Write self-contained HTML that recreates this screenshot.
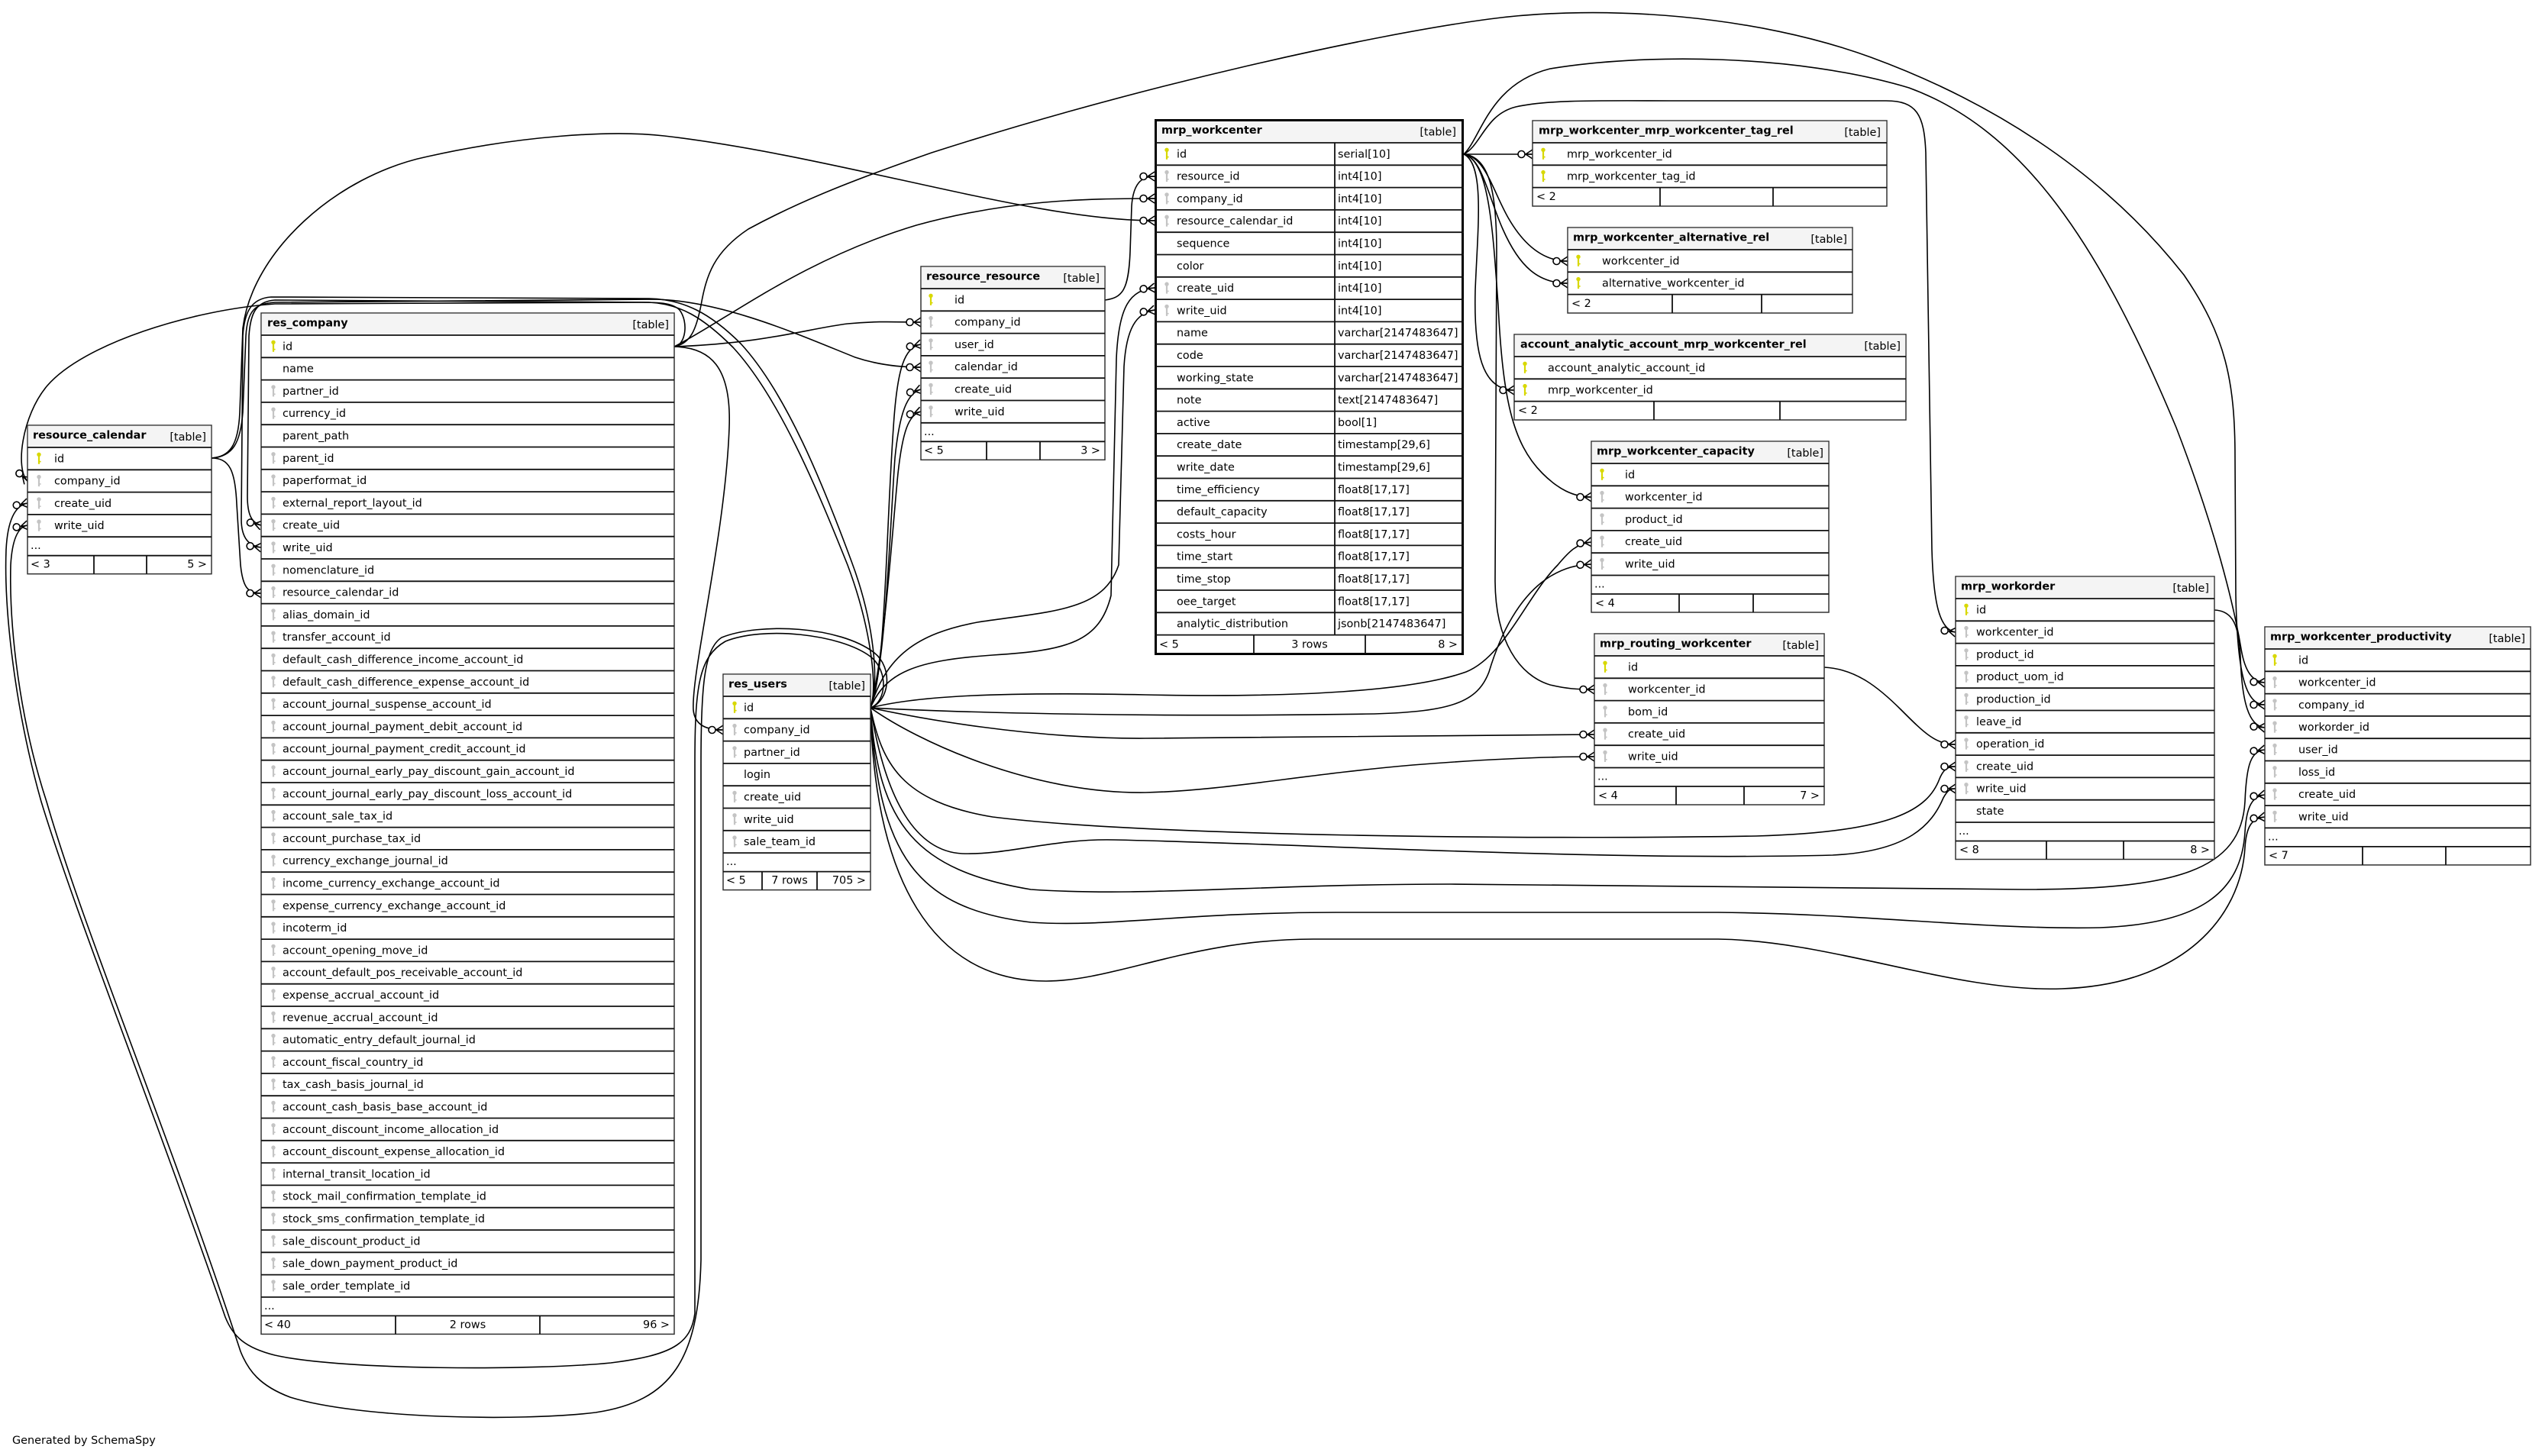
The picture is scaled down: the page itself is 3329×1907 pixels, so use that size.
<!DOCTYPE html>
<html><head><meta charset="utf-8"><style>
html,body{margin:0;padding:0;background:#fff;}
svg{display:block;}
text{font-family:"DejaVu Sans","Liberation Sans",sans-serif;font-size:14.4px;fill:#000;}
.b{font-weight:bold;}
.e{text-anchor:end;}
.m{text-anchor:middle;}
.tb{fill:#fff;stroke:#333;stroke-width:1.5;}
.hd{fill:#f4f4f4;}
.ln{stroke:#111;stroke-width:1.8;fill:none;}
.ed path{fill:none;stroke:#000;stroke-width:1.6;marker-end:url(#cr);}
</style></head><body>
<svg width="3329" height="1907" viewBox="0 0 3329 1907" xmlns="http://www.w3.org/2000/svg">
<defs>
<g id="kp"><circle cx="0" cy="-10" r="2.7" fill="#d8d800"/><rect x="-1.1" y="-9" width="2.2" height="11.5" fill="#d8d800"/><rect x="1" y="-1.5" width="1.6" height="1.6" fill="#d8d800"/></g>
<g id="kf"><circle cx="0" cy="-10" r="2.7" fill="#c4c4c4"/><rect x="-1.1" y="-9" width="2.2" height="11.5" fill="#c4c4c4"/><rect x="1" y="-1.5" width="1.6" height="1.6" fill="#c4c4c4"/></g>
<marker id="cr" viewBox="-24 -10 26 20" refX="0" refY="0" markerWidth="26" markerHeight="20" markerUnits="userSpaceOnUse" orient="auto">
<path d="M-9,0 L0,-6 M-9,0 L0,0 M-9,0 L0,6" stroke="#000" stroke-width="1.6" fill="none"/>
<circle cx="-14.5" cy="0" r="4.5" fill="#fff" stroke="#000" stroke-width="1.6"/>
</marker>
</defs>

<!-- EDGES -->
<g class="ed">
<path d="M883,454 C898,452 902,422 890,406 C880,396 860,396 840,396 L360,398 C250,406 110,450 62,505 C28,545 20,615 36,630"/>
<path d="M883,454 C930,455 958,480 955,560 C950,700 905,880 908,930 C910,950 925,956 947,956"/>
<path d="M883,454 C1000,450 1060,430 1110,424 C1150,420 1180,422 1206,422"/>
<path d="M883,454 C950,420 1050,340 1200,295 C1320,262 1420,260 1512,260"/>
<path d="M883,454 C905,450 912,430 918,400 C925,360 935,330 980,300 C1050,262 1120,235 1220,200 C1500,110 1800,45 1950,25 C2100,5 2300,20 2450,75 C2600,130 2750,220 2860,360 C2915,440 2927,500 2927,600 L2928,780 C2930,880 2940,923 2966,923"/>
<path d="M277,600 C300,600 308,615 310,660 L315,740 C318,770 325,777 342,777"/>
<path d="M277,600 C305,598 315,580 318,540 L322,440 C324,405 335,398 360,396 L860,392 C950,395 1050,440 1120,468 C1150,478 1180,481 1206,481"/>
<path d="M277,600 C300,598 312,585 314,540 L318,430 C330,330 440,230 560,205 C680,178 800,170 870,178 C1100,205 1350,289 1512,289"/>
<path d="M1140,927 C1160,920 1165,880 1140,860 C1100,830 1000,820 950,840 C915,860 910,900 910,1000 L910,1720 C905,1760 880,1775 800,1785 C700,1795 450,1795 360,1775 C320,1765 305,1750 295,1725 C200,1450 100,1200 54,1050 C20,930 5,800 8,720 C10,680 20,662 36,659"/>
<path d="M1140,927 C1165,918 1170,875 1145,855 C1100,820 995,815 945,835 C922,850 918,900 918,1000 L918,1650 C915,1780 880,1835 780,1850 C680,1862 470,1858 380,1830 C340,1815 325,1795 315,1770 C220,1480 110,1220 61,1050 C25,940 12,820 14,740 C16,705 24,690 36,688"/>
<path d="M1140,927 C1150,900 1140,820 1110,740 C1070,640 1020,520 960,455 C920,415 890,398 850,396 L360,393 C335,395 328,410 326,440 L324,650 C324,675 330,685 342,688"/>
<path d="M1140,927 C1152,895 1145,815 1115,735 C1078,635 1030,515 970,450 C930,410 895,392 850,391 L355,389 C328,391 320,410 318,440 L316,680 C316,705 326,715 342,717"/>
<path d="M1140,927 C1160,880 1160,700 1170,560 C1175,480 1185,455 1206,451"/>
<path d="M1140,927 C1160,870 1165,700 1172,600 C1178,540 1188,515 1206,510"/>
<path d="M1140,927 C1158,860 1168,700 1176,620 C1182,565 1190,543 1206,539"/>
<path d="M1140,927 C1160,880 1200,865 1300,858 C1400,852 1440,840 1455,780 L1462,470 C1465,400 1480,380 1512,377"/>
<path d="M1140,927 C1160,860 1200,830 1280,815 C1380,800 1445,800 1465,740 L1472,480 C1475,430 1488,410 1512,406"/>
<path d="M1140,927 C1200,912 1300,906 1500,910 C1700,914 1850,905 1920,880 C1970,860 2000,780 2040,740 C2055,722 2065,712 2084,710"/>
<path d="M1140,927 C1250,933 1500,940 1800,935 C1900,932 1935,920 1950,880 C1965,830 1990,780 2030,755 C2050,743 2065,740 2084,739"/>
<path d="M1140,927 C1200,940 1350,968 1500,967 C1700,965 1900,962 2088,962"/>
<path d="M1140,927 C1200,970 1350,1040 1500,1038 C1600,1036 1700,1015 1850,1002 C1950,994 2030,991 2088,991"/>
<path d="M1140,927 C1155,1000 1180,1050 1300,1070 C1500,1095 2000,1100 2300,1095 C2480,1090 2525,1060 2540,1020 C2545,1008 2550,1004 2561,1004"/>
<path d="M1140,927 C1160,1050 1200,1115 1260,1118 C1320,1120 1380,1098 1460,1100 C1700,1105 2100,1128 2400,1120 C2500,1115 2530,1080 2545,1045 C2550,1036 2553,1033 2561,1033"/>
<path d="M1140,927 C1150,1080 1200,1140 1350,1165 C1500,1175 1650,1158 1900,1158 L2650,1165 C2850,1165 2935,1140 2940,1050 C2942,1000 2948,984 2966,982"/>
<path d="M1140,927 C1150,1120 1200,1190 1350,1208 C1450,1215 1550,1195 1750,1195 L2250,1195 C2450,1197 2600,1218 2750,1215 C2880,1210 2935,1170 2940,1090 C2942,1055 2950,1043 2966,1041"/>
<path d="M1140,927 C1145,1150 1220,1285 1370,1285 C1460,1285 1560,1230 1720,1230 L2250,1230 C2400,1232 2560,1300 2700,1295 C2860,1290 2935,1200 2940,1110 C2942,1080 2950,1072 2966,1070"/>
<path d="M1447,393 C1470,390 1478,380 1480,330 L1482,270 C1484,240 1495,231 1512,231"/>
<path d="M1917,202 L2007,202"/>
<path d="M1917,202 C1945,205 1955,250 1975,285 C1995,320 2020,342 2053,342"/>
<path d="M1917,202 C1940,205 1950,260 1968,300 C1990,350 2015,371 2053,371"/>
<path d="M1917,202 C1945,215 1935,300 1932,380 C1930,460 1940,511 1983,511"/>
<path d="M1917,202 C1950,210 1955,300 1962,400 C1968,520 1980,580 2020,620 C2040,640 2060,651 2084,651"/>
<path d="M1917,202 C1950,205 1960,250 1960,330 L1958,760 C1958,840 1990,885 2030,897 C2050,902 2065,903 2088,903"/>
<path d="M1917,202 C1940,190 1945,150 1985,140 C2030,130 2100,132 2200,132 L2470,132 C2510,132 2520,150 2522,200 L2530,720 C2532,790 2540,825 2561,828"/>
<path d="M1917,202 C1940,180 1950,110 2030,90 C2150,70 2350,70 2500,115 C2650,170 2750,320 2850,560 C2900,690 2925,790 2935,850 C2940,880 2950,893 2966,894"/>
<path d="M2389,874 C2430,876 2460,900 2490,930 C2520,960 2535,975 2561,975"/>
<path d="M2900,799 C2925,800 2932,820 2934,860 C2936,920 2945,951 2966,953"/>
</g>

<!-- resource_calendar -->
<g transform="translate(36,557)">
<rect class="tb" x="0" y="0" width="241" height="194.7"/>
<rect class="hd" x="0.75" y="0.75" width="239.5" height="28"/>
<path class="ln" d="M0,29H241M0,58.3H241M0,87.6H241M0,116.9H241M0,146.2H241M0,170.7H241M87,170.7V194.7M156,170.7V194.7"/>
<text class="b" x="7" y="17.5">resource_calendar</text><text class="e" x="234" y="20">[table]</text>
<use href="#kp" x="15" y="48.3"/><text x="35" y="48.3">id</text>
<use href="#kf" x="15" y="77.6"/><text x="35" y="77.6">company_id</text>
<use href="#kf" x="15" y="106.9"/><text x="35" y="106.9">create_uid</text>
<use href="#kf" x="15" y="136.2"/><text x="35" y="136.2">write_uid</text>
<text x="4" y="162">...</text>
<text x="4" y="186.7">&lt; 3</text><text class="e" x="235" y="186.7">5 &gt;</text>
</g>

<!-- res_company -->
<g transform="translate(342,410)">
<rect class="tb" x="0" y="0" width="541" height="1337.4"/>
<rect class="hd" x="0.75" y="0.75" width="539.5" height="28"/>
<path class="ln" d="M0,29H541M0,58.3H541M0,87.6H541M0,116.9H541M0,146.2H541M0,175.5H541M0,204.8H541M0,234.1H541M0,263.4H541M0,292.7H541M0,322H541M0,351.3H541M0,380.6H541M0,409.9H541M0,439.2H541M0,468.5H541M0,497.8H541M0,527.1H541M0,556.4H541M0,585.7H541M0,615H541M0,644.3H541M0,673.6H541M0,702.9H541M0,732.2H541M0,761.5H541M0,790.8H541M0,820.1H541M0,849.4H541M0,878.7H541M0,908H541M0,937.3H541M0,966.6H541M0,995.9H541M0,1025.2H541M0,1054.5H541M0,1083.8H541M0,1113.1H541M0,1142.4H541M0,1171.7H541M0,1201H541M0,1230.3H541M0,1259.6H541M0,1288.9H541M0,1313.4H541M176,1313.4V1337.4M365,1313.4V1337.4"/>
<text class="b" x="8" y="17.5">res_company</text><text class="e" x="534" y="20">[table]</text>
<use href="#kp" x="16" y="48.3"/><text x="28" y="48.3">id</text>
<text x="28" y="77.6">name</text>
<use href="#kf" x="16" y="106.9"/><text x="28" y="106.9">partner_id</text>
<use href="#kf" x="16" y="136.2"/><text x="28" y="136.2">currency_id</text>
<text x="28" y="165.5">parent_path</text>
<use href="#kf" x="16" y="194.8"/><text x="28" y="194.8">parent_id</text>
<use href="#kf" x="16" y="224.1"/><text x="28" y="224.1">paperformat_id</text>
<use href="#kf" x="16" y="253.4"/><text x="28" y="253.4">external_report_layout_id</text>
<use href="#kf" x="16" y="282.7"/><text x="28" y="282.7">create_uid</text>
<use href="#kf" x="16" y="312"/><text x="28" y="312">write_uid</text>
<use href="#kf" x="16" y="341.3"/><text x="28" y="341.3">nomenclature_id</text>
<use href="#kf" x="16" y="370.6"/><text x="28" y="370.6">resource_calendar_id</text>
<use href="#kf" x="16" y="399.9"/><text x="28" y="399.9">alias_domain_id</text>
<use href="#kf" x="16" y="429.2"/><text x="28" y="429.2">transfer_account_id</text>
<use href="#kf" x="16" y="458.5"/><text x="28" y="458.5">default_cash_difference_income_account_id</text>
<use href="#kf" x="16" y="487.8"/><text x="28" y="487.8">default_cash_difference_expense_account_id</text>
<use href="#kf" x="16" y="517.1"/><text x="28" y="517.1">account_journal_suspense_account_id</text>
<use href="#kf" x="16" y="546.4"/><text x="28" y="546.4">account_journal_payment_debit_account_id</text>
<use href="#kf" x="16" y="575.7"/><text x="28" y="575.7">account_journal_payment_credit_account_id</text>
<use href="#kf" x="16" y="605"/><text x="28" y="605">account_journal_early_pay_discount_gain_account_id</text>
<use href="#kf" x="16" y="634.3"/><text x="28" y="634.3">account_journal_early_pay_discount_loss_account_id</text>
<use href="#kf" x="16" y="663.6"/><text x="28" y="663.6">account_sale_tax_id</text>
<use href="#kf" x="16" y="692.9"/><text x="28" y="692.9">account_purchase_tax_id</text>
<use href="#kf" x="16" y="722.2"/><text x="28" y="722.2">currency_exchange_journal_id</text>
<use href="#kf" x="16" y="751.5"/><text x="28" y="751.5">income_currency_exchange_account_id</text>
<use href="#kf" x="16" y="780.8"/><text x="28" y="780.8">expense_currency_exchange_account_id</text>
<use href="#kf" x="16" y="810.1"/><text x="28" y="810.1">incoterm_id</text>
<use href="#kf" x="16" y="839.4"/><text x="28" y="839.4">account_opening_move_id</text>
<use href="#kf" x="16" y="868.7"/><text x="28" y="868.7">account_default_pos_receivable_account_id</text>
<use href="#kf" x="16" y="898"/><text x="28" y="898">expense_accrual_account_id</text>
<use href="#kf" x="16" y="927.3"/><text x="28" y="927.3">revenue_accrual_account_id</text>
<use href="#kf" x="16" y="956.6"/><text x="28" y="956.6">automatic_entry_default_journal_id</text>
<use href="#kf" x="16" y="985.9"/><text x="28" y="985.9">account_fiscal_country_id</text>
<use href="#kf" x="16" y="1015.2"/><text x="28" y="1015.2">tax_cash_basis_journal_id</text>
<use href="#kf" x="16" y="1044.5"/><text x="28" y="1044.5">account_cash_basis_base_account_id</text>
<use href="#kf" x="16" y="1073.8"/><text x="28" y="1073.8">account_discount_income_allocation_id</text>
<use href="#kf" x="16" y="1103.1"/><text x="28" y="1103.1">account_discount_expense_allocation_id</text>
<use href="#kf" x="16" y="1132.4"/><text x="28" y="1132.4">internal_transit_location_id</text>
<use href="#kf" x="16" y="1161.7"/><text x="28" y="1161.7">stock_mail_confirmation_template_id</text>
<use href="#kf" x="16" y="1191"/><text x="28" y="1191">stock_sms_confirmation_template_id</text>
<use href="#kf" x="16" y="1220.3"/><text x="28" y="1220.3">sale_discount_product_id</text>
<use href="#kf" x="16" y="1249.6"/><text x="28" y="1249.6">sale_down_payment_product_id</text>
<use href="#kf" x="16" y="1278.9"/><text x="28" y="1278.9">sale_order_template_id</text>
<text x="4" y="1305">...</text>
<text x="4" y="1329.5">&lt; 40</text><text class="m" x="270.5" y="1329.5">2 rows</text><text class="e" x="535" y="1329.5">96 &gt;</text>
</g>

<!-- res_users -->
<g transform="translate(947,883)">
<rect class="tb" x="0" y="0" width="193" height="282.6"/>
<rect class="hd" x="0.75" y="0.75" width="191.5" height="28"/>
<path class="ln" d="M0,29H193M0,58.3H193M0,87.6H193M0,116.9H193M0,146.2H193M0,175.5H193M0,204.8H193M0,234.1H193M0,258.6H193M51,258.6V282.6M123,258.6V282.6"/>
<text class="b" x="7" y="17.5">res_users</text><text class="e" x="186" y="20">[table]</text>
<use href="#kp" x="15" y="48.3"/><text x="27" y="48.3">id</text>
<use href="#kf" x="15" y="77.6"/><text x="27" y="77.6">company_id</text>
<use href="#kf" x="15" y="106.9"/><text x="27" y="106.9">partner_id</text>
<text x="27" y="136.2">login</text>
<use href="#kf" x="15" y="165.5"/><text x="27" y="165.5">create_uid</text>
<use href="#kf" x="15" y="194.8"/><text x="27" y="194.8">write_uid</text>
<use href="#kf" x="15" y="224.1"/><text x="27" y="224.1">sale_team_id</text>
<text x="4" y="250">...</text>
<text x="4" y="274.6">&lt; 5</text><text class="m" x="87" y="274.6">7 rows</text><text class="e" x="187" y="274.6">705 &gt;</text>
</g>

<!-- resource_resource -->
<g transform="translate(1206,349)">
<rect class="tb" x="0" y="0" width="241" height="253.3"/>
<rect class="hd" x="0.75" y="0.75" width="239.5" height="28"/>
<path class="ln" d="M0,29H241M0,58.3H241M0,87.6H241M0,116.9H241M0,146.2H241M0,175.5H241M0,204.8H241M0,229.3H241M86,229.3V253.3M156,229.3V253.3"/>
<text class="b" x="7" y="17.5">resource_resource</text><text class="e" x="234" y="20">[table]</text>
<use href="#kp" x="13" y="48.3"/><text x="44" y="48.3">id</text>
<use href="#kf" x="13" y="77.6"/><text x="44" y="77.6">company_id</text>
<use href="#kf" x="13" y="106.9"/><text x="44" y="106.9">user_id</text>
<use href="#kf" x="13" y="136.2"/><text x="44" y="136.2">calendar_id</text>
<use href="#kf" x="13" y="165.5"/><text x="44" y="165.5">create_uid</text>
<use href="#kf" x="13" y="194.8"/><text x="44" y="194.8">write_uid</text>
<text x="4" y="220.8">...</text>
<text x="4" y="245.3">&lt; 5</text><text class="e" x="235" y="245.3">3 &gt;</text>
</g>

<!-- mrp_workcenter -->
<g transform="translate(1512,156)">
<rect x="1.5" y="1.5" width="402" height="699" fill="#fff" stroke="#000" stroke-width="3"/>
<rect class="hd" x="3" y="3" width="399" height="27"/>
<path class="ln" d="M0,31H405M0,60.3H405M0,89.6H405M0,118.9H405M0,148.2H405M0,177.5H405M0,206.8H405M0,236.1H405M0,265.4H405M0,294.7H405M0,324H405M0,353.3H405M0,382.6H405M0,411.9H405M0,441.2H405M0,470.5H405M0,499.8H405M0,529.1H405M0,558.4H405M0,587.7H405M0,617H405M0,646.3H405M0,675.6H405M236,31V675.6M130,675.6V700M276,675.6V700"/>
<text class="b" x="9" y="19">mrp_workcenter</text><text class="e" x="395" y="21.5">[table]</text>
<use href="#kp" x="16" y="50.3"/><text x="29" y="50.3">id</text><text x="240" y="50.3">serial[10]</text>
<use href="#kf" x="16" y="79.6"/><text x="29" y="79.6">resource_id</text><text x="240" y="79.6">int4[10]</text>
<use href="#kf" x="16" y="108.9"/><text x="29" y="108.9">company_id</text><text x="240" y="108.9">int4[10]</text>
<use href="#kf" x="16" y="138.2"/><text x="29" y="138.2">resource_calendar_id</text><text x="240" y="138.2">int4[10]</text>
<text x="29" y="167.5">sequence</text><text x="240" y="167.5">int4[10]</text>
<text x="29" y="196.8">color</text><text x="240" y="196.8">int4[10]</text>
<use href="#kf" x="16" y="226.1"/><text x="29" y="226.1">create_uid</text><text x="240" y="226.1">int4[10]</text>
<use href="#kf" x="16" y="255.4"/><text x="29" y="255.4">write_uid</text><text x="240" y="255.4">int4[10]</text>
<text x="29" y="284.7">name</text><text x="240" y="284.7">varchar[2147483647]</text>
<text x="29" y="314">code</text><text x="240" y="314">varchar[2147483647]</text>
<text x="29" y="343.3">working_state</text><text x="240" y="343.3">varchar[2147483647]</text>
<text x="29" y="372.6">note</text><text x="240" y="372.6">text[2147483647]</text>
<text x="29" y="401.9">active</text><text x="240" y="401.9">bool[1]</text>
<text x="29" y="431.2">create_date</text><text x="240" y="431.2">timestamp[29,6]</text>
<text x="29" y="460.5">write_date</text><text x="240" y="460.5">timestamp[29,6]</text>
<text x="29" y="489.8">time_efficiency</text><text x="240" y="489.8">float8[17,17]</text>
<text x="29" y="519.1">default_capacity</text><text x="240" y="519.1">float8[17,17]</text>
<text x="29" y="548.4">costs_hour</text><text x="240" y="548.4">float8[17,17]</text>
<text x="29" y="577.7">time_start</text><text x="240" y="577.7">float8[17,17]</text>
<text x="29" y="607">time_stop</text><text x="240" y="607">float8[17,17]</text>
<text x="29" y="636.3">oee_target</text><text x="240" y="636.3">float8[17,17]</text>
<text x="29" y="665.6">analytic_distribution</text><text x="240" y="665.6">jsonb[2147483647]</text>
<text x="6" y="692.5">&lt; 5</text><text class="m" x="203" y="692.5">3 rows</text><text class="e" x="397" y="692.5">8 &gt;</text>
</g>

<!-- mrp_workcenter_mrp_workcenter_tag_rel -->
<g transform="translate(2007,158)">
<rect class="tb" x="0" y="0" width="464" height="112"/>
<rect class="hd" x="0.75" y="0.75" width="462.5" height="28"/>
<path class="ln" d="M0,29H464M0,58.3H464M0,87.6H464M167,87.6V112M315,87.6V112"/>
<text class="b" x="8" y="17.5">mrp_workcenter_mrp_workcenter_tag_rel</text><text class="e" x="456" y="20">[table]</text>
<use href="#kp" x="14" y="48.3"/><text x="45" y="48.3">mrp_workcenter_id</text>
<use href="#kp" x="14" y="77.6"/><text x="45" y="77.6">mrp_workcenter_tag_id</text>
<text x="5" y="104">&lt; 2</text>
</g>

<!-- mrp_workcenter_alternative_rel -->
<g transform="translate(2053,298)">
<rect class="tb" x="0" y="0" width="373" height="112"/>
<rect class="hd" x="0.75" y="0.75" width="371.5" height="28"/>
<path class="ln" d="M0,29H373M0,58.3H373M0,87.6H373M137,87.6V112M254,87.6V112"/>
<text class="b" x="7" y="17.5">mrp_workcenter_alternative_rel</text><text class="e" x="366" y="20">[table]</text>
<use href="#kp" x="14" y="48.3"/><text x="45" y="48.3">workcenter_id</text>
<use href="#kp" x="14" y="77.6"/><text x="45" y="77.6">alternative_workcenter_id</text>
<text x="5" y="104">&lt; 2</text>
</g>

<!-- account_analytic_account_mrp_workcenter_rel -->
<g transform="translate(1983,438)">
<rect class="tb" x="0" y="0" width="513" height="112"/>
<rect class="hd" x="0.75" y="0.75" width="511.5" height="28"/>
<path class="ln" d="M0,29H513M0,58.3H513M0,87.6H513M183,87.6V112M348,87.6V112"/>
<text class="b" x="8" y="17.5">account_analytic_account_mrp_workcenter_rel</text><text class="e" x="506" y="20">[table]</text>
<use href="#kp" x="14" y="48.3"/><text x="44" y="48.3">account_analytic_account_id</text>
<use href="#kp" x="14" y="77.6"/><text x="44" y="77.6">mrp_workcenter_id</text>
<text x="5" y="104">&lt; 2</text>
</g>

<!-- mrp_workcenter_capacity -->
<g transform="translate(2084,578)">
<rect class="tb" x="0" y="0" width="311" height="224"/>
<rect class="hd" x="0.75" y="0.75" width="309.5" height="28"/>
<path class="ln" d="M0,29H311M0,58.3H311M0,87.6H311M0,116.9H311M0,146.2H311M0,175.5H311M0,200H311M115,200V224M212,200V224"/>
<text class="b" x="7" y="17.5">mrp_workcenter_capacity</text><text class="e" x="304" y="20">[table]</text>
<use href="#kp" x="14" y="48.3"/><text x="44" y="48.3">id</text>
<use href="#kf" x="14" y="77.6"/><text x="44" y="77.6">workcenter_id</text>
<use href="#kf" x="14" y="106.9"/><text x="44" y="106.9">product_id</text>
<use href="#kf" x="14" y="136.2"/><text x="44" y="136.2">create_uid</text>
<use href="#kf" x="14" y="165.5"/><text x="44" y="165.5">write_uid</text>
<text x="4" y="191.5">...</text>
<text x="5" y="216.5">&lt; 4</text>
</g>

<!-- mrp_routing_workcenter -->
<g transform="translate(2088,830)">
<rect class="tb" x="0" y="0" width="301" height="224"/>
<rect class="hd" x="0.75" y="0.75" width="299.5" height="28"/>
<path class="ln" d="M0,29H301M0,58.3H301M0,87.6H301M0,116.9H301M0,146.2H301M0,175.5H301M0,200H301M107,200V224M196,200V224"/>
<text class="b" x="7" y="17.5">mrp_routing_workcenter</text><text class="e" x="294" y="20">[table]</text>
<use href="#kp" x="14" y="48.3"/><text x="44" y="48.3">id</text>
<use href="#kf" x="14" y="77.6"/><text x="44" y="77.6">workcenter_id</text>
<use href="#kf" x="14" y="106.9"/><text x="44" y="106.9">bom_id</text>
<use href="#kf" x="14" y="136.2"/><text x="44" y="136.2">create_uid</text>
<use href="#kf" x="14" y="165.5"/><text x="44" y="165.5">write_uid</text>
<text x="4" y="191.5">...</text>
<text x="5" y="216.5">&lt; 4</text><text class="e" x="295" y="216.5">7 &gt;</text>
</g>

<!-- mrp_workorder -->
<g transform="translate(2561,755)">
<rect class="tb" x="0" y="0" width="339" height="370.5"/>
<rect class="hd" x="0.75" y="0.75" width="337.5" height="28"/>
<path class="ln" d="M0,29H339M0,58.3H339M0,87.6H339M0,116.9H339M0,146.2H339M0,175.5H339M0,204.8H339M0,234.1H339M0,263.4H339M0,292.7H339M0,322H339M0,346.5H339M119,346.5V370.5M220,346.5V370.5"/>
<text class="b" x="7" y="17.5">mrp_workorder</text><text class="e" x="332" y="20">[table]</text>
<use href="#kp" x="14" y="48.3"/><text x="27" y="48.3">id</text>
<use href="#kf" x="14" y="77.6"/><text x="27" y="77.6">workcenter_id</text>
<use href="#kf" x="14" y="106.9"/><text x="27" y="106.9">product_id</text>
<use href="#kf" x="14" y="136.2"/><text x="27" y="136.2">product_uom_id</text>
<use href="#kf" x="14" y="165.5"/><text x="27" y="165.5">production_id</text>
<use href="#kf" x="14" y="194.8"/><text x="27" y="194.8">leave_id</text>
<use href="#kf" x="14" y="224.1"/><text x="27" y="224.1">operation_id</text>
<use href="#kf" x="14" y="253.4"/><text x="27" y="253.4">create_uid</text>
<use href="#kf" x="14" y="282.7"/><text x="27" y="282.7">write_uid</text>
<text x="27" y="312">state</text>
<text x="4" y="338">...</text>
<text x="5" y="362.5">&lt; 8</text><text class="e" x="333" y="362.5">8 &gt;</text>
</g>

<!-- mrp_workcenter_productivity -->
<g transform="translate(2966,821)">
<rect class="tb" x="0" y="0" width="348" height="311.9"/>
<rect class="hd" x="0.75" y="0.75" width="346.5" height="28"/>
<path class="ln" d="M0,29H348M0,58.3H348M0,87.6H348M0,116.9H348M0,146.2H348M0,175.5H348M0,204.8H348M0,234.1H348M0,263.4H348M0,287.9H348M128,287.9V311.9M237,287.9V311.9"/>
<text class="b" x="7" y="17.5">mrp_workcenter_productivity</text><text class="e" x="341" y="20">[table]</text>
<use href="#kp" x="13" y="48.3"/><text x="44" y="48.3">id</text>
<use href="#kf" x="13" y="77.6"/><text x="44" y="77.6">workcenter_id</text>
<use href="#kf" x="13" y="106.9"/><text x="44" y="106.9">company_id</text>
<use href="#kf" x="13" y="136.2"/><text x="44" y="136.2">workorder_id</text>
<use href="#kf" x="13" y="165.5"/><text x="44" y="165.5">user_id</text>
<use href="#kf" x="13" y="194.8"/><text x="44" y="194.8">loss_id</text>
<use href="#kf" x="13" y="224.1"/><text x="44" y="224.1">create_uid</text>
<use href="#kf" x="13" y="253.4"/><text x="44" y="253.4">write_uid</text>
<text x="4" y="279.4">...</text>
<text x="5" y="304">&lt; 7</text>
</g>

<text x="16" y="1891">Generated by SchemaSpy</text>
</svg>
</body></html>
